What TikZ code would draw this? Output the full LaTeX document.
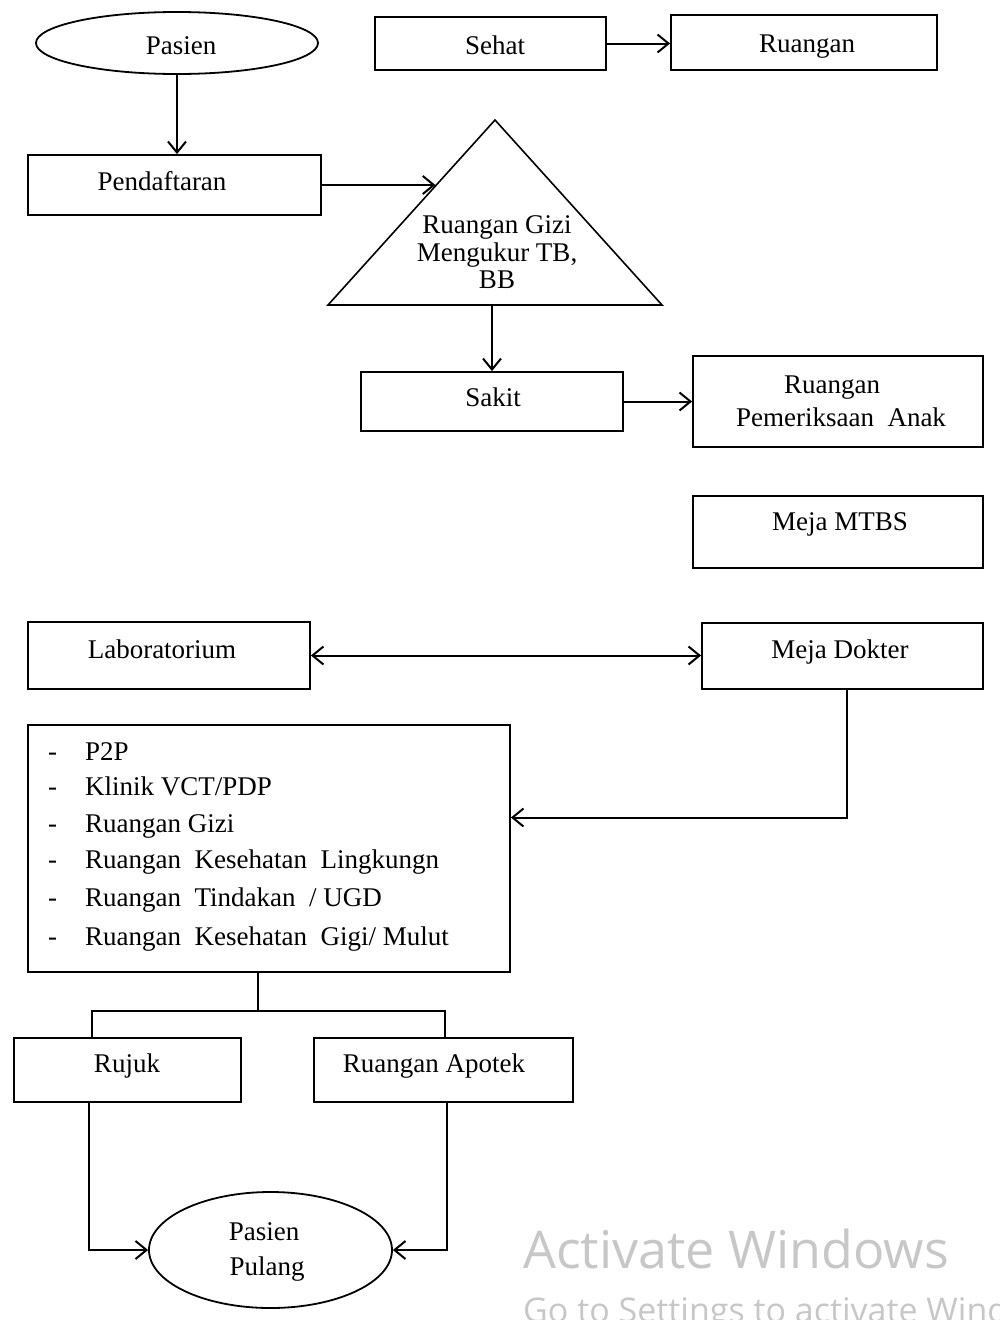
\documentclass[tikz,border=0pt]{standalone}
\usepackage{fontspec}
\setmainfont{Liberation Serif}
\newfontfamily\wmfont{Open Sans}
\usetikzlibrary{arrows.meta,shapes.geometric,calc}
\begin{document}
\begin{tikzpicture}[x=1pt,y=-1pt,
  box/.style={draw, line width=1.8pt, rectangle, inner sep=0pt},
  oval/.style={draw, line width=1.8pt, ellipse, inner sep=0pt},
  lbl/.style={font=\fontsize{27}{32}\selectfont, inner sep=0pt, anchor=base},
  itm/.style={font=\fontsize{27}{32}\selectfont, inner sep=0pt, anchor=base west},
  arr/.style={line width=2pt, -{Straight Barb[length=11pt,width=18pt]}},
  darr/.style={line width=2pt, {Straight Barb[length=11pt,width=18pt]}-{Straight Barb[length=11pt,width=18pt]}},
  conn/.style={line width=2pt},
  wm/.style={inner sep=0pt, anchor=base west, text=black!22}]
\useasboundingbox (0,0) rectangle (1000,1320);

% shapes
\node[oval, minimum width=282pt, minimum height=62pt] (pasien) at (177,43) {};
\node[box, minimum width=231pt, minimum height=53pt] (sehat) at (490.5,43.5) {};
\node[box, minimum width=266pt, minimum height=55pt] (ruang) at (804,42.5) {};
\node[box, minimum width=293pt, minimum height=60pt] (pend) at (174.5,185) {};
\coordinate (triA) at (495,120);
\coordinate (triB) at (328,305);
\coordinate (triC) at (662,305);
\draw[line width=1.6pt, line join=miter] (triA) -- (triC) -- (triB) -- cycle;
\coordinate (triL) at ($(triB)!0.643!(triA)$);
\node[box, minimum width=262pt, minimum height=59pt] (sakit) at (492,401.5) {};
\node[box, minimum width=290pt, minimum height=91pt] (rpa) at (838,401.5) {};
\node[box, minimum width=290pt, minimum height=72pt] (mtbs) at (838,532) {};
\node[box, minimum width=282pt, minimum height=67pt] (lab) at (169,655.5) {};
\node[box, minimum width=281pt, minimum height=66pt] (dokter) at (842.5,656) {};
\node[box, minimum width=482pt, minimum height=247pt] (list) at (269,848.5) {};
\node[box, minimum width=227pt, minimum height=64pt] (rujuk) at (127.5,1070) {};
\node[box, minimum width=259pt, minimum height=64pt] (apotek) at (443.5,1070) {};
\node[oval, minimum width=243pt, minimum height=116pt] (pp) at (270.5,1250) {};

% texts
\node[lbl] (t-pasien) at (181,54) {Pasien};
\node[lbl] (t-sehat) at (495,54) {Sehat};
\node[lbl] (t-ruang) at (807,52) {Ruangan};
\node[lbl] (t-pend) at (162,190) {Pendaftaran};
\node[lbl] (t-tri1) at (497,233) {Ruangan Gizi};
\node[lbl] (t-tri2) at (497,261) {Mengukur TB,};
\node[lbl] (t-tri3) at (497,288) {BB};
\node[lbl] (t-sakit) at (493,406) {Sakit};
\node[lbl] (t-rpa1) at (832,393) {Ruangan};
\node[lbl] (t-rpa2) at (841,426) {Pemeriksaan\ \ Anak};
\node[lbl] (t-mtbs) at (840,530) {Meja MTBS};
\node[lbl] (t-lab) at (162,658) {Laboratorium};
\node[lbl] (t-dokter) at (840,658) {Meja Dokter};
\foreach \yy/\tt [count=\i] in {760/{P2P}, 795/{Klinik VCT/PDP}, 832/{Ruangan Gizi}, 868/{Ruangan\ \ Kesehatan\ \ Lingkungn}, 906/{Ruangan\ \ Tindakan\ \ / UGD}, 945/{Ruangan\ \ Kesehatan\ \ Gigi/ Mulut}}{
  \node[itm] (d\i) at (48,\yy) {-};
  \node[itm] (li\i) at (85,\yy) {\tt};
}
\node[lbl] (t-rujuk) at (127,1072) {Rujuk};
\node[lbl] (t-apotek) at (434,1072) {Ruangan Apotek};
\node[lbl] (t-pp1) at (264,1240) {Pasien};
\node[lbl] (t-pp2) at (267,1275) {Pulang};

% connectors
\draw[arr] (pasien.south) -- (pasien.south |- pend.north);
\draw[arr] (sehat.east) -- (sehat.east -| ruang.west);
\draw[arr] (pend.east) -- (pend.east -| triL);
\draw[arr] (sakit.north |- triB) -- (sakit.north);
\draw[arr] (sakit.east) -- (rpa.west);
\draw[darr] (lab.east) -- (lab.east -| dokter.west);
\draw[arr] ([xshift=4pt]dokter.south) |- ([yshift=31pt]list.east);
\coordinate (split) at (258,1011);
\draw[conn] (split |- list.south) -- (split);
\draw[conn] ([xshift=-35.5pt]rujuk.north) |- (split) -| ([xshift=1.5pt]apotek.north);
\draw[arr] ([xshift=-38.5pt]rujuk.south) |- (pp.west);
\draw[arr] ([xshift=3.5pt]apotek.south) |- (pp.east);

% watermark
\begin{scope}
\clip (0,0) rectangle (1000,1320);
\node[wm, font=\wmfont\fontsize{52}{60}\selectfont] (wm1) at (523,1268) {Activate Windows};
\node[wm, font=\wmfont\fontsize{34}{40}\selectfont] (wm2) at (523,1322) {Go to Settings to activate Windows.};
\end{scope}
\end{tikzpicture}
\end{document}
